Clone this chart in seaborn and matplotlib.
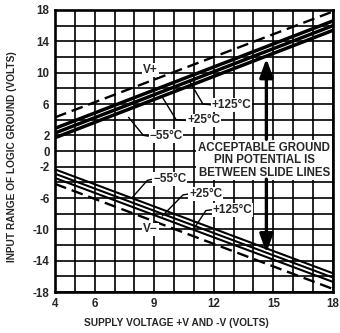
import numpy as np
import pandas as pd
import matplotlib
matplotlib.use("Agg")
import matplotlib.pyplot as plt
from matplotlib.patches import Rectangle
import seaborn as sns

# ── data ──
supply_v   = [4, 18]
v_plus     = [4.3, 17.8]
v_minus    = [-4.2, -17.6]
upper_m55  = [1.7, 15.4]
upper_p25  = [2.3, 16.0]
upper_p125 = [2.9, 16.6]
lower_m55  = [-2.35, -15.6]
lower_p25  = [-2.9, -16.15]
lower_p125 = [-3.45, -16.7]

x_ticks_lab = [4, 6, 9, 12, 15, 18]
y_ticks_lab = [18, 14, 10, 6, 2, 0, -2, -6, -10, -14, -18]

sns.set_style("white")
plt.rcParams["font.family"] = ["Liberation Sans", "DejaVu Sans"]
plt.rcParams["font.weight"] = "bold"

fig = plt.figure(figsize=(3.4, 3.33), dpi=100)
ax = fig.add_axes([0.162, 0.123, 0.817, 0.847])

# grid: every 1 V on x, every 2 V on y
ax.set_xlim(4, 18)
ax.set_ylim(-18, 18)
ax.set_xticks(np.arange(4, 19, 1))
ax.set_xticklabels([str(v) if v in x_ticks_lab else "" for v in range(4, 19)])
ax.set_yticks(np.arange(-18, 19, 2))
ax.set_yticklabels([str(v) if v in y_ticks_lab else "" for v in range(-18, 19, 2)])
ax.grid(True, color="black", linewidth=1.2)
ax.set_axisbelow(True)
ax.tick_params(length=0, labelsize=8.3, pad=4)
for t in ax.get_xticklabels() + ax.get_yticklabels():
    t.set_fontweight("bold")
for s in ax.spines.values():
    s.set_linewidth(1.9)
    s.set_color("black")

# curves
for ys in (upper_m55, upper_p25, upper_p125):
    sns.lineplot(x=supply_v, y=ys, ax=ax, color="black", linewidth=2.5, zorder=3)
for ys in (lower_m55, lower_p25, lower_p125):
    sns.lineplot(x=supply_v, y=ys, ax=ax, color="black", linewidth=1.5, zorder=3)
for ys in (v_plus, v_minus):
    sns.lineplot(x=supply_v, y=ys, ax=ax, color="black", linewidth=1.7, zorder=3)
ax.lines[-1].set_dashes((5, 2.5))
ax.lines[-2].set_dashes((5, 2.5))

# text box
ax.add_patch(Rectangle((11.1, -3.7), 6.85, 5.1, facecolor="white",
                       edgecolor="none", zorder=4))
ax.text(14.55, -1.2, "ACCEPTABLE GROUND\nPIN POTENTIAL IS\nBETWEEN SLIDE LINES",
        ha="center", va="center", fontsize=8.3, fontweight="bold",
        linespacing=1.05, zorder=5)

# slide arrows
arrow_kw = dict(arrowstyle="-|>,head_width=0.4,head_length=1.1",
                color="black", lw=2.4, shrinkA=0, shrinkB=0)
ax.annotate("", xy=(14.65, 11.8), xytext=(14.65, 1.5), arrowprops=arrow_kw, zorder=6)
ax.annotate("", xy=(14.65, -13.0), xytext=(14.65, -3.6), arrowprops=arrow_kw, zorder=6)

# labels with leaders
box = dict(facecolor="white", edgecolor="none", pad=0.6)
labels = [
    ("V+",     (8.8, 10.3),  None),
    ("V\u2212", (8.8, -10.0), None),
    ("\u221255\u00b0C", (8.75, 1.9),  [(7.7, 4.3), (8.45, 2.0), (8.7, 1.9)]),
    ("+25\u00b0C",      (10.65, 3.9), [(9.4, 6.9), (10.1, 4.0), (10.6, 3.9)]),
    ("+125\u00b0C",     (11.9, 5.9),  [(10.8, 8.8), (11.45, 6.0), (11.85, 5.9)]),
    ("\u221255\u00b0C", (8.95, -3.6), [(7.9, -5.9), (8.65, -3.75), (8.9, -3.6)]),
    ("+25\u00b0C",      (10.75, -5.5), [(9.4, -8.3), (10.45, -5.6), (10.7, -5.5)]),
    ("+125\u00b0C",     (11.95, -7.5), [(11.0, -9.9), (11.6, -7.6), (11.9, -7.5)]),
]
for txt, (lx, ly), leader in labels:
    if leader is not None:
        lxs, lys = zip(*leader)
        ax.plot(lxs, lys, color="black", lw=1.0, zorder=4)
        ax.text(lx, ly, txt, ha="left", va="center", fontsize=8.5,
                fontweight="bold", bbox=box, zorder=5)
    else:
        ax.text(lx, ly, txt, ha="center", va="center", fontsize=8.5,
                fontweight="bold", bbox=box, zorder=5)

fig.text(0.52, 0.03, "SUPPLY VOLTAGE +V AND -V (VOLTS)", ha="center",
         va="center", fontsize=7.3, fontweight="bold")
fig.text(0.035, 0.53, "INPUT RANGE OF LOGIC GROUND (VOLTS)", ha="center",
         va="center", rotation=90, fontsize=7.3, fontweight="bold")

fig.savefig("out.png", dpi=100)
